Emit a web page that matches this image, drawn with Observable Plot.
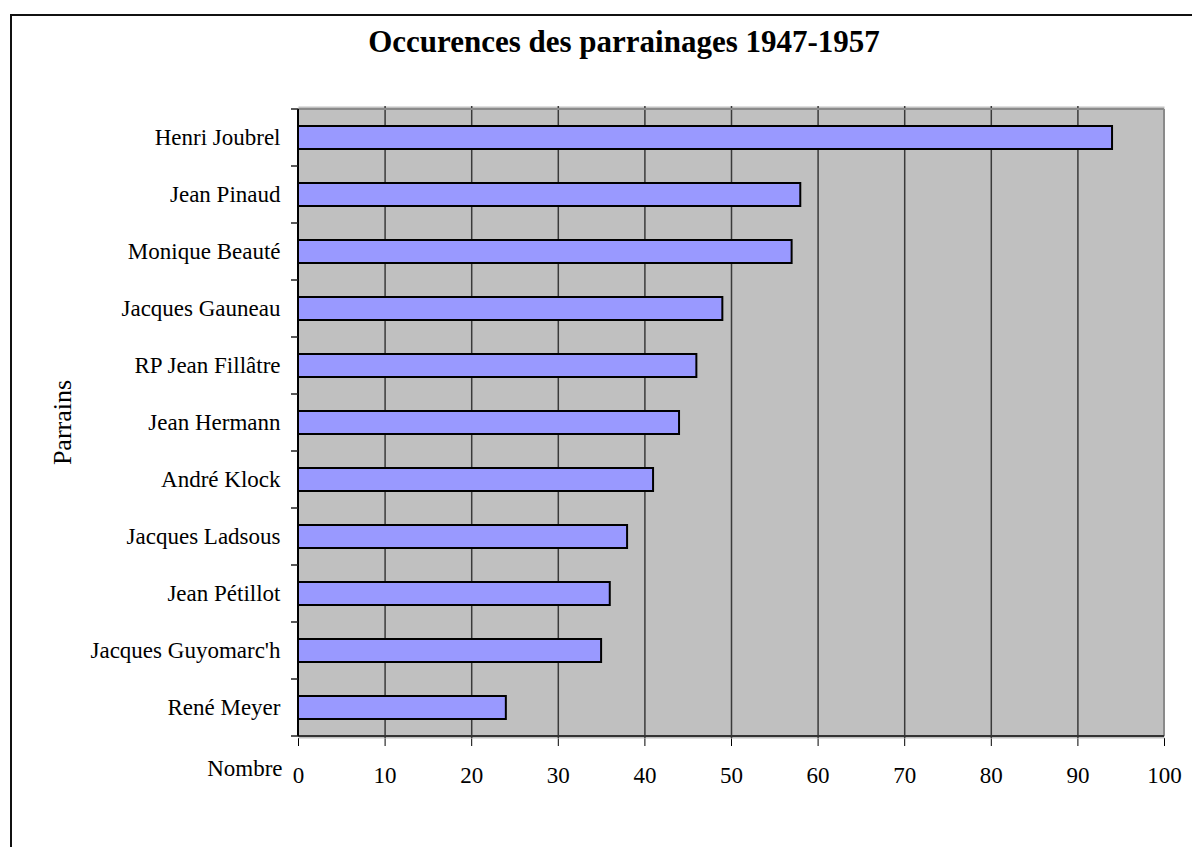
<!DOCTYPE html>
<html>
<head>
<meta charset="utf-8">
<script src="https://cdn.jsdelivr.net/npm/d3@7"></script>
<script src="https://cdn.jsdelivr.net/npm/@observablehq/plot@0.6"></script>
<style>
  html, body { margin: 0; padding: 0; background: #fff; }
  #wrap { position: relative; width: 1192px; height: 847px; overflow: hidden; font-family: "Liberation Serif", "Times New Roman", serif; }
  #border { position: absolute; left: 10px; top: 14px; width: 1400px; height: 1100px; border-left: 2px solid #111; border-top: 2px solid #111; }
  #title { position: absolute; left: 0; top: 26px; width: 1248px; text-align: center; font-size: 31px; line-height: 1; font-weight: bold; color: #000; }
  #chart { position: absolute; left: 0; top: 80px; }
</style>
</head>
<body>
<div id="wrap">
  <div id="border"></div>
  <div id="title"></div>
  <div id="chart"></div>
</div>
<script>
const titleText = "Occurences des parrainages 1947-1957";
const names = [
  "Henri Joubrel", "Jean Pinaud", "Monique Beauté", "Jacques Gauneau",
  "RP Jean Fillâtre", "Jean Hermann", "André Klock", "Jacques Ladsous",
  "Jean Pétillot", "Jacques Guyomarc'h", "René Meyer"
];
const values = [94, 58, 57, 49, 46, 44, 41, 38, 36, 35, 24];
const xTicks = [0, 10, 20, 30, 40, 50, 60, 70, 80, 90, 100];
const xLabel = "Nombre";
const yLabel = "Parrains";

document.getElementById("title").textContent = titleText;

const data = names.map((n, i) => ({name: n, value: values[i]}));

const frameLines = (index, scales, channels, dims) => {
  const {x, y} = scales;
  const step = y(names[1]) - y(names[0]);
  const bounds = names.map(n => y(n));
  bounds.push(y(names[names.length - 1]) + step);
  const x0 = x(0), x1 = x(100);
  const yTop = bounds[0], yBot = bounds[bounds.length - 1];
  const g = d3.create("svg:g");
  g.append("line").attr("x1", x0).attr("x2", x1).attr("y1", yTop).attr("y2", yTop)
    .attr("stroke", "#8a8a8a").attr("stroke-width", 2);
  g.append("line").attr("x1", x1).attr("x2", x1).attr("y1", yTop).attr("y2", yBot)
    .attr("stroke", "#8a8a8a").attr("stroke-width", 2);
  g.append("line").attr("x1", x0).attr("x2", x1).attr("y1", yBot).attr("y2", yBot)
    .attr("stroke", "#333").attr("stroke-width", 2);
  g.append("line").attr("x1", x0).attr("x2", x0).attr("y1", yTop).attr("y2", yBot)
    .attr("stroke", "#000").attr("stroke-width", 2);
  for (const b of bounds) {
    g.append("line").attr("x1", x0 - 7).attr("x2", x0).attr("y1", b).attr("y2", b)
      .attr("stroke", "#222").attr("stroke-width", 1.5);
  }
  return g.node();
};

const chart = Plot.plot({
  width: 1192,
  height: 767,
  marginTop: 26,
  marginBottom: 109,
  marginLeft: 298,
  marginRight: 28,
  style: {fontFamily: "'Liberation Serif', 'Times New Roman', serif", fontSize: "23px", color: "#000", background: "transparent", overflow: "visible"},
  x: {domain: [0, 100], ticks: xTicks, tickSize: 8, tickPadding: 20, label: null, tickFormat: d => String(d)},
  y: {domain: names, padding: 0, tickSize: 0, tickPadding: 18, label: null},
  marks: [
    Plot.frame({fill: "#c0c0c0", stroke: null}),
    Plot.ruleX(xTicks.slice(1, -1), {stroke: "#3a3a3a", strokeWidth: 1.5}),
    Plot.barX(data, {y: "name", x: "value", fill: "#9999ff", stroke: "#000", strokeWidth: 2, insetTop: 17, insetBottom: 17}),
    frameLines,
    Plot.text([{x: 0, t: xLabel}], {x: "x", text: "t", frameAnchor: "bottom", dy: 37, dx: -16, textAnchor: "end", fontSize: 23}),
    Plot.text([yLabel], {text: d => d, frameAnchor: "left", textAnchor: "middle", dx: -236, rotate: -90, fontSize: 26})
  ]
});
document.getElementById("chart").appendChild(chart);
</script>
</body>
</html>
